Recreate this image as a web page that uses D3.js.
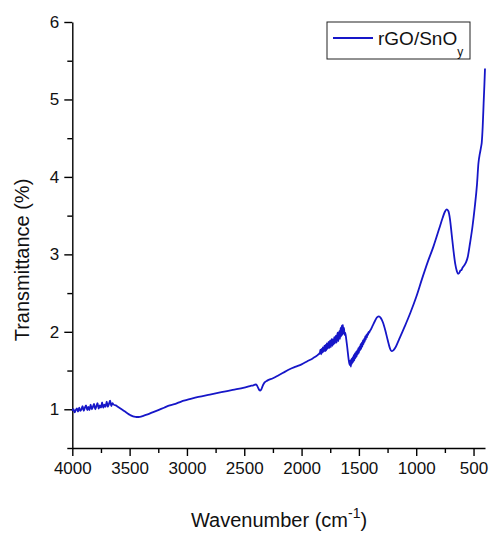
<!DOCTYPE html>
<html>
<head>
<meta charset="utf-8">
<script src="https://cdn.jsdelivr.net/npm/d3@7"></script>
<style>
  html, body { margin: 0; padding: 0; background: #fff; }
  svg { display: block; font-family: "Liberation Sans", Arial, sans-serif; }
</style>
</head>
<body>
<svg id="chart" width="489" height="534"></svg>
<script>
// FTIR spectrum of rGO/SnOy: wavenumber (cm-1) and transmittance (%)
const wavenumber = [
  // O-H stretch region (noisy)
  4000, 3990, 3980, 3970, 3960, 3950, 3940, 3930, 3920, 3910,
  3900, 3890, 3880, 3870, 3860, 3850, 3840, 3830, 3820, 3810,
  3800, 3790, 3780, 3770, 3760, 3750, 3740, 3730, 3720, 3710,
  3700, 3690, 3680, 3670, 3660, 3650, 3640,
  // broad minimum and slow rise
  3620, 3600, 3580, 3560, 3540, 3520, 3500, 3480, 3460, 3440,
  3420, 3400, 3380, 3350, 3300, 3250, 3200, 3150, 3100, 3050,
  3000, 2900, 2800, 2700, 2600, 2500, 2450, 2420,
  // CO2 dip
  2400, 2390, 2380, 2370, 2360, 2350, 2340, 2330, 2320, 2300,
  2250, 2200, 2150, 2100, 2050, 2000, 1950, 1900, 1860,
  // C=O / C=C region (noisy)
  1840, 1835, 1830, 1825, 1820, 1815, 1810, 1805, 1800, 1795,
  1790, 1785, 1780, 1775, 1770, 1765, 1760, 1755, 1750, 1745,
  1740, 1735, 1730, 1725, 1720, 1715, 1710, 1705, 1700, 1695,
  1690, 1685, 1680, 1675, 1670, 1665, 1660, 1655, 1650, 1645,
  1640, 1635, 1630, 1625, 1620,
  1610, 1600, 1590, 1580,
  1575, 1570, 1565, 1560, 1555, 1550, 1545, 1540, 1535, 1530,
  1525, 1520, 1515, 1510, 1505, 1500, 1495, 1490, 1485, 1480,
  1475, 1470, 1465, 1460, 1455, 1450, 1445, 1440, 1435, 1430,
  1425, 1420, 1415, 1410, 1405, 1400,
  // C-O region and fingerprint
  1380, 1360, 1340, 1325, 1310, 1290, 1270, 1250, 1230, 1215,
  1200, 1180, 1150, 1100, 1050, 1000, 950, 900, 850, 800,
  770, 750, 735, 720, 705, 690, 675, 660, 645, 635,
  625, 615, 605, 595, 580, 565, 550, 530, 510, 490,
  470, 457, 445, 435, 428, 420, 412, 405, 400
];
const transmittance = [
  // O-H stretch region (noisy)
  0.98, 1.00, 0.96, 0.99, 1.01, 0.97, 1.02, 0.98, 1.00, 1.04,
  0.98, 1.02, 1.05, 0.99, 1.03, 0.99, 1.06, 1.00, 1.03, 1.07,
  1.00, 1.04, 1.08, 1.01, 1.05, 1.02, 1.09, 1.02, 1.06, 1.03,
  1.10, 1.03, 1.07, 1.11, 1.04, 1.08, 1.06,
  // broad minimum and slow rise
  1.05, 1.03, 1.01, 0.99, 0.97, 0.95, 0.93, 0.915, 0.905, 0.90,
  0.90, 0.905, 0.915, 0.93, 0.96, 0.99, 1.02, 1.05, 1.07, 1.10,
  1.12, 1.16, 1.19, 1.22, 1.25, 1.28, 1.30, 1.31,
  // CO2 dip
  1.32, 1.31, 1.28, 1.25, 1.24, 1.26, 1.30, 1.33, 1.35, 1.37,
  1.40, 1.44, 1.48, 1.52, 1.55, 1.58, 1.62, 1.66, 1.70,
  // C=O / C=C region (noisy)
  1.73, 1.77, 1.71, 1.78, 1.73, 1.80, 1.74, 1.79, 1.82, 1.75,
  1.83, 1.76, 1.85, 1.78, 1.82, 1.87, 1.79, 1.86, 1.89, 1.80,
  1.88, 1.91, 1.82, 1.90, 1.84, 1.93, 1.85, 1.92, 1.95, 1.86,
  1.94, 1.99, 1.88, 1.97, 2.01, 1.91, 2.05, 1.94, 2.08, 1.96,
  2.09, 1.98, 2.05, 1.96, 1.99,
  1.90, 1.78, 1.65, 1.57,
  1.63, 1.55, 1.65, 1.59, 1.67, 1.61, 1.70, 1.63, 1.72, 1.66,
  1.74, 1.68, 1.76, 1.71, 1.79, 1.73, 1.81, 1.76, 1.84, 1.78,
  1.86, 1.81, 1.89, 1.84, 1.91, 1.87, 1.94, 1.90, 1.96, 1.93,
  1.98, 1.96, 2.00, 1.99, 2.01, 2.02,
  // C-O region and fingerprint
  2.08, 2.14, 2.19, 2.20, 2.18, 2.12, 2.02, 1.90, 1.79, 1.75,
  1.76, 1.80, 1.90, 2.07, 2.25, 2.45, 2.68, 2.90, 3.10, 3.33,
  3.47, 3.55, 3.58, 3.56, 3.45, 3.25, 3.05, 2.88, 2.78, 2.75,
  2.76, 2.79, 2.80, 2.83, 2.86, 2.90, 2.97, 3.15, 3.35, 3.60,
  3.90, 4.18, 4.30, 4.38, 4.45, 4.65, 4.95, 5.20, 5.40
];
const xMajorTicks = [4000, 3500, 3000, 2500, 2000, 1500, 1000, 500];
const xMinorTicks = [3750, 3250, 2750, 2250, 1750, 1250, 750];
const yMajorTicks = [1, 2, 3, 4, 5, 6];
const yMinorTicks = [0.5, 1.5, 2.5, 3.5, 4.5, 5.5];
const seriesName = "rGO/SnO";
const seriesSub = "y";

const svg = d3.select("#chart");
const x = d3.scaleLinear().domain([4000, 400]).range([72.3, 485]);
const y = d3.scaleLinear().domain([0.5, 6]).range([448, 22]);
const lineColor = "#1616c8";
const fmt = d3.format("d");

// axes: major ticks labelled, minor ticks shorter and unlabelled
const xAxisG = svg.append("g").attr("transform", `translate(0,${y(0.5)})`);
xAxisG.call(d3.axisBottom(x).tickValues(xMajorTicks).tickFormat(fmt)
  .tickSize(8).tickSizeOuter(0).tickPadding(6));
const xMinorG = svg.append("g").attr("transform", `translate(0,${y(0.5)})`);
xMinorG.call(d3.axisBottom(x).tickValues(xMinorTicks).tickSize(5).tickSizeOuter(0).tickFormat(""));
xMinorG.select(".domain").remove();

const yAxisG = svg.append("g").attr("transform", `translate(${x(4000)},0)`);
yAxisG.call(d3.axisLeft(y).tickValues(yMajorTicks).tickFormat(fmt)
  .tickSize(8).tickSizeOuter(0).tickPadding(5));
const yMinorG = svg.append("g").attr("transform", `translate(${x(4000)},0)`);
yMinorG.call(d3.axisLeft(y).tickValues(yMinorTicks).tickSize(5).tickSizeOuter(0).tickFormat(""));
yMinorG.select(".domain").remove();

svg.selectAll(".domain, .tick line").attr("stroke", "#000").attr("stroke-width", 1.4);
svg.selectAll(".tick text").attr("font-size", 17).attr("fill", "#111")
  .attr("font-family", "'Liberation Sans', Arial, sans-serif");

// spectrum line
const line = d3.line()
  .x((d, i) => x(wavenumber[i]))
  .y(d => y(d))
  .curve(d3.curveMonotoneX);
svg.append("path")
  .datum(transmittance)
  .attr("fill", "none")
  .attr("stroke", lineColor)
  .attr("stroke-width", 1.8)
  .attr("stroke-linejoin", "round")
  .attr("d", line);

// axis titles
const xTitle = svg.append("text")
  .attr("x", 279).attr("y", 527)
  .attr("text-anchor", "middle")
  .attr("font-size", 20).attr("fill", "#111");
xTitle.append("tspan").text("Wavenumber (cm");
xTitle.append("tspan").attr("font-size", 14).attr("dy", -9).text("-1");
xTitle.append("tspan").attr("dy", 9).text(")");

svg.append("text")
  .attr("transform", "translate(29,260) rotate(-90)")
  .attr("text-anchor", "middle")
  .attr("font-size", 20).attr("fill", "#111")
  .text("Transmittance (%)");

// legend
const lg = svg.append("g");
lg.append("rect")
  .attr("x", 327).attr("y", 22).attr("width", 143).attr("height", 37)
  .attr("fill", "#fff").attr("stroke", "#222").attr("stroke-width", 1);
lg.append("line")
  .attr("x1", 333).attr("x2", 373).attr("y1", 38).attr("y2", 38)
  .attr("stroke", lineColor).attr("stroke-width", 1.8);
const lt = lg.append("text")
  .attr("x", 378).attr("y", 45)
  .attr("font-size", 19).attr("fill", "#111");
lt.append("tspan").text(seriesName);
lt.append("tspan").attr("font-size", 12).attr("dy", 11).text(seriesSub);
</script>
</body>
</html>
